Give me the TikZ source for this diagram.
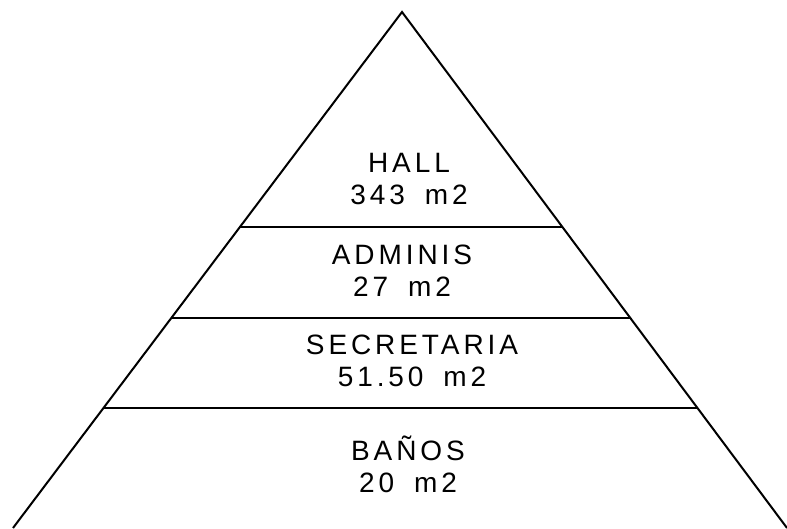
\documentclass[tikz,border=0pt]{standalone}
\usepackage{fontspec}
\setmainfont{Liberation Sans}[LetterSpace=14, WordSpace=1.7]
\usetikzlibrary{calc}

\begin{document}
\begin{tikzpicture}[
    x=1pt, y=-1pt,
    area/.style={align=center, inner sep=0pt,
        font=\fontsize{28}{32}\selectfont},
    wall/.style={line width=2pt, -}
]
    \useasboundingbox (0,0) rectangle (787,528);
    \coordinate (apex) at (402,12);
    \coordinate (bl) at (13,528);
    \coordinate (br) at (787,528);
    \draw[wall] (bl) -- (apex) -- (br);
    \coordinate (l1) at ($(apex)!0.4167!(bl)$);
    \coordinate (r1) at ($(apex)!0.4167!(br)$);
    \coordinate (l2) at ($(apex)!0.593!(bl)$);
    \coordinate (r2) at ($(apex)!0.593!(br)$);
    \coordinate (l3) at ($(apex)!0.7674!(bl)$);
    \coordinate (r3) at ($(apex)!0.7674!(br)$);
    \draw[wall] (l1) -- (r1);
    \draw[wall] (l2) -- (r2);
    \draw[wall] (l3) -- (r3);
    \node[area] (hall) at (409,179) {HALL\\343 m2};
    \node[area] (admin) at (402,271) {ADMINIS\\27 m2};
    \node[area] (secre) at (412,361) {SECRETARIA\\51.50 m2};
    \node[area] (banos) at (408,464) {BAÑOS\\20 m2};
\end{tikzpicture}
\end{document}
